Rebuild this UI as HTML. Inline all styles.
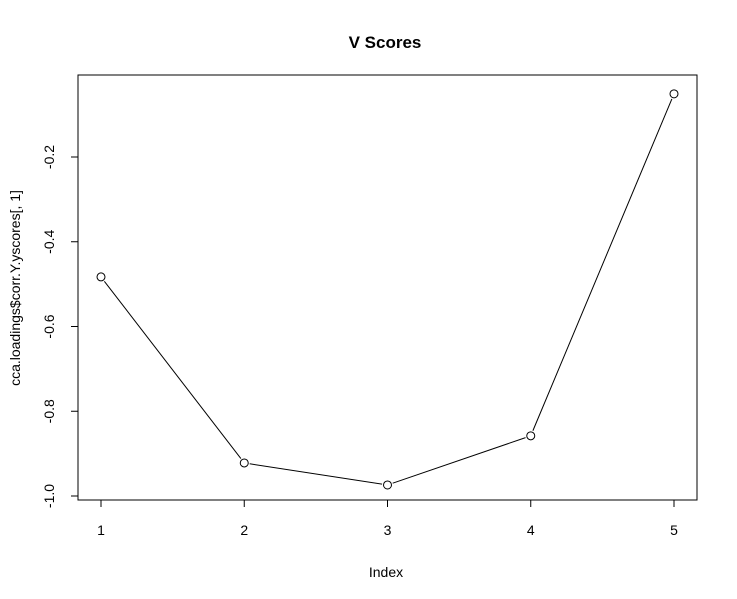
<!DOCTYPE html>
<html><head><meta charset="utf-8"><style>
html,body{margin:0;padding:0;background:#fff;}
svg{display:block;font-family:"Liberation Sans",Arial,sans-serif;}
</style></head><body>
<svg id="chart" width="737" height="599" viewBox="0 0 737 599">
<text x="385" y="48" text-anchor="middle" font-size="17" font-weight="bold">V Scores</text>
<rect x="78" y="75" width="619" height="425" fill="none" stroke="#000" stroke-width="1"/>
<text x="386" y="577" text-anchor="middle" font-size="14">Index</text>
<text transform="translate(20,288) rotate(-90)" text-anchor="middle" font-size="14">cca.loadings$corr.Y.yscores[, 1]</text>
<g id="axes"></g>
<g id="marks"></g>
</svg>
<script>
const categories = [1, 2, 3, 4, 5];
const values = [-0.483, -0.922, -0.974, -0.858, -0.051];
const yTicks = [-1.0, -0.8, -0.6, -0.4, -0.2];
const yTickLabels = ["-1.0", "-0.8", "-0.6", "-0.4", "-0.2"];

const NS = "http://www.w3.org/2000/svg";
function xScale(v){ return 101 + (v - 1) * 143.25; }
function yScale(v){ return 157 + (-0.2 - v) * 423.75; }
function mk(tag, attrs, parent){
  const e = document.createElementNS(NS, tag);
  for (const k in attrs) e.setAttribute(k, attrs[k]);
  parent.appendChild(e);
  return e;
}
const axes = document.getElementById("axes");
const marks = document.getElementById("marks");

const xl = mk("line", {x1: xScale(1), x2: xScale(5), y1: 500, y2: 500, stroke: "#000"}, axes);


categories.forEach(c => {
  const t = mk("line", {x1: xScale(c), x2: xScale(c), y1: 500, y2: 507, stroke: "#000"}, axes);
  
  
  const l = mk("text", {x: xScale(c), y: 535, "text-anchor": "middle", "font-size": "14"}, axes);
  l.textContent = String(c);
  
  
});
const yl = mk("line", {x1: 78, x2: 78, y1: yScale(yTicks[0]), y2: yScale(yTicks[yTicks.length-1]), stroke: "#000"}, axes);


yTicks.forEach((v, i) => {
  const y = yScale(v);
  const t = mk("line", {x1: 71, x2: 78, y1: y, y2: y, stroke: "#000"}, axes);
  
  
  const l = mk("text", {transform: "translate(54," + y + ") rotate(-90)", "text-anchor": "middle", "font-size": "14"}, axes);
  l.textContent = yTickLabels[i];
  
  
});

const pts = categories.map((c, i) => [xScale(c), yScale(values[i])]);
for (let i = 0; i < pts.length - 1; i++) {
  const [x1, y1] = pts[i], [x2, y2] = pts[i+1];
  const dx = x2 - x1, dy = y2 - y1, d = Math.hypot(dx, dy), r = 5.5;
  const s = mk("line", {x1: x1 + dx/d*r, y1: y1 + dy/d*r, x2: x2 - dx/d*r, y2: y2 - dy/d*r, stroke: "#000"}, marks);
  
  
}
pts.forEach(([x, y]) => {
  const c = mk("circle", {cx: x, cy: y, r: 4, fill: "#fff", stroke: "#000"}, marks);
  
  
});
</script>
</body></html>
